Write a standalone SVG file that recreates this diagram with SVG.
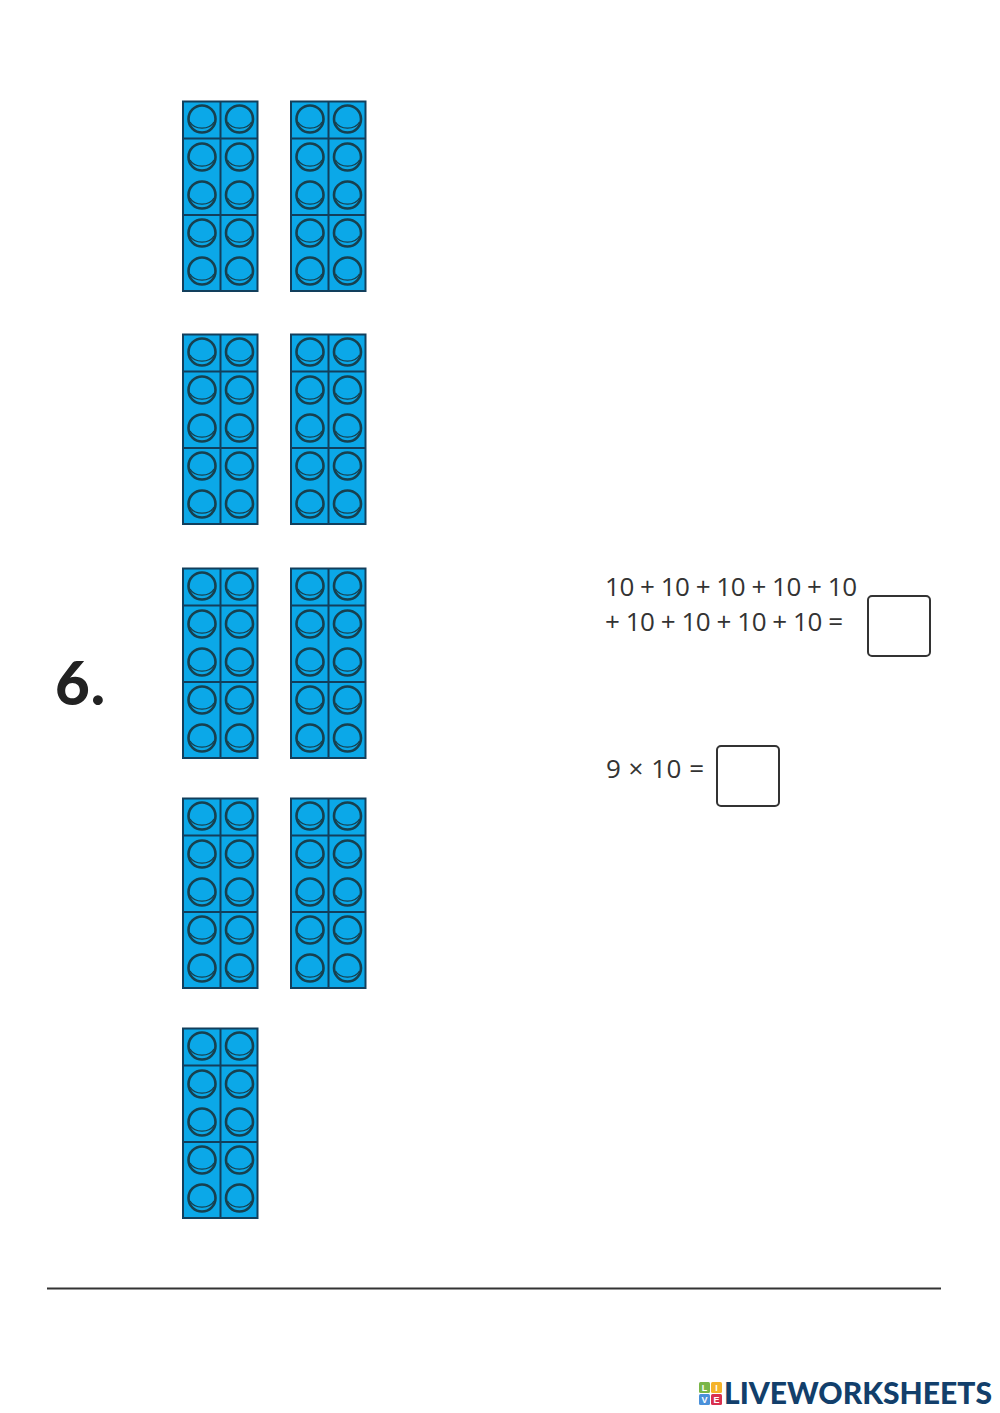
<svg xmlns="http://www.w3.org/2000/svg" width="1000" height="1413" viewBox="0 0 1000 1413">
<style>
.t{font-family:"Open Sans","Noto Sans",sans-serif;fill:#333;font-size:26px}
.ln{stroke:#123f5c;stroke-width:2;fill:none}
.box{fill:#fff;stroke:#333;stroke-width:2}
.tile{font-family:"Liberation Sans",sans-serif;font-weight:700;font-size:9px;fill:#fff;text-anchor:middle}
</style>
<defs>
<g id="stud"><circle r="13.500" fill="#0ba8e8" stroke="#17404f" stroke-width="2.600"/><path d="M-12 3A13 10 0 0 0 12 3" fill="none" stroke="#17404f" stroke-width="1.300"/></g>
<g id="bar">
<rect x="0" y="0.500" width="74.500" height="189.500" fill="#0ba8e8" stroke="#123f5c" stroke-width="2"/>
<path class="ln" d="M37.500 0V190M0 37.500H74.500M0 114H74.500"/>
<use href="#stud" x="19" y="18"/><use href="#stud" x="56.500" y="18"/>
<use href="#stud" x="19" y="56"/><use href="#stud" x="56.500" y="56"/>
<use href="#stud" x="19" y="94"/><use href="#stud" x="56.500" y="94"/>
<use href="#stud" x="19" y="132"/><use href="#stud" x="56.500" y="132"/>
<use href="#stud" x="19" y="170"/><use href="#stud" x="56.500" y="170"/>
</g>
</defs>
<rect width="1000" height="1413" fill="#fff"/>
<g id="bar-1"><use href="#bar" x="183" y="101"/></g>
<g id="bar-2"><use href="#bar" x="291" y="101"/></g>
<g id="bar-3"><use href="#bar" x="183" y="334"/></g>
<g id="bar-4"><use href="#bar" x="291" y="334"/></g>
<g id="bar-5"><use href="#bar" x="183" y="568"/></g>
<g id="bar-6"><use href="#bar" x="291" y="568"/></g>
<g id="bar-7"><use href="#bar" x="183" y="798"/></g>
<g id="bar-8"><use href="#bar" x="291" y="798"/></g>
<g id="bar-9"><use href="#bar" x="183" y="1028"/></g>
<g id="number"><text x="55" y="705" font-family="Lato,'Open Sans',sans-serif" font-weight="900" font-size="60" fill="#222" textLength="50" lengthAdjust="spacing">6.</text></g>
<g id="eq-1">
<text class="t" x="605" y="595.500" textLength="252" lengthAdjust="spacing">10 + 10 + 10 + 10 + 10</text>
<text class="t" x="605" y="630.500" textLength="238" lengthAdjust="spacing">+ 10 + 10 + 10 + 10 =</text>
<rect class="box" x="868" y="596" width="62" height="60" rx="4"/>
</g>
<g id="eq-2">
<text class="t" x="606" y="777.500" textLength="98" lengthAdjust="spacing">9 × 10 =</text>
<rect class="box" x="717" y="746" width="62" height="60" rx="4"/>
</g>
<path id="rule" d="M47 1288.500H941" stroke="#333" stroke-width="2" fill="none"/>
<g id="logo">
<rect x="699" y="1382" width="11" height="11" rx="1.500" fill="#7ab648"/><text class="tile" x="704.500" y="1391">L</text>
<rect x="711" y="1382" width="11" height="11" rx="1.500" fill="#f5b32a"/><text class="tile" x="716.500" y="1391">I</text>
<rect x="699" y="1394" width="11" height="11" rx="1.500" fill="#4a90d9"/><text class="tile" x="704.500" y="1403">V</text>
<rect x="711" y="1394" width="11" height="11" rx="1.500" fill="#d9304f"/><text class="tile" x="716.500" y="1403">E</text>
<text x="724" y="1404" font-family="Lato,'Liberation Sans',sans-serif" font-weight="900" font-size="30" fill="#123f6b" textLength="268" lengthAdjust="spacingAndGlyphs">LIVEWORKSHEETS</text>
</g>
</svg>
